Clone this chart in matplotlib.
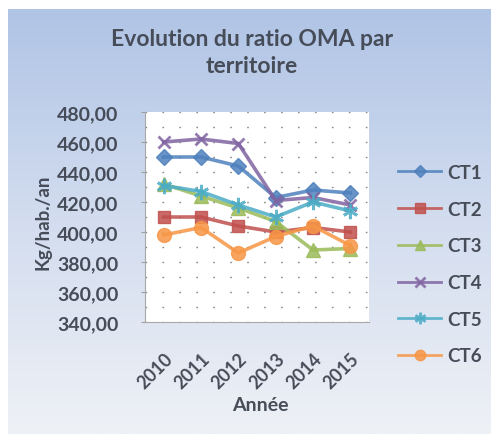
import numpy as np
import matplotlib
matplotlib.use("Agg")
import matplotlib.pyplot as plt
from matplotlib.colors import LinearSegmentedColormap

# --- data ---
years = ["2010", "2011", "2012", "2013", "2014", "2015"]
ct1 = [450, 450, 444, 423, 428, 426]
ct2 = [410, 410, 404, 400, 403, 400]
ct3 = [432, 424, 416, 407, 388, 389]
ct4 = [460, 462, 459, 421, 423, 418]
ct5 = [431, 427, 418, 410, 420, 414]
ct6 = [398, 403, 386, 397, 404, 391]
series_names = ["CT1", "CT2", "CT3", "CT4", "CT5", "CT6"]
y_ticks = [340, 360, 380, 400, 420, 440, 460, 480]

TXT = "#464c58"
FONT = "Lato"

styles = [
    dict(color="#4F81BD", marker="D", ms=8),
    dict(color="#C0504D", marker="s", ms=9),
    dict(color="#9BBB59", marker="^", ms=10),
    dict(color="#8064A2", marker="x", ms=9, mew=2),
    dict(color="#4BACC6", marker=(6, 2, 0), ms=11, mew=2),
    dict(color="#F79646", marker="o", ms=10),
]

fig = plt.figure(figsize=(4.91, 4.35), dpi=100)

# light blue gradient background of the Excel chart area
bg = fig.add_axes([8 / 491, 0, 1 - 8 / 491, 1 - 10 / 435])
grad = np.linspace(0, 1, 256).reshape(-1, 1)
cmap = LinearSegmentedColormap.from_list("bg", ["#b0c4e6", "#d3ddef", "#eef1f6"])
bg.imshow(grad, aspect="auto", cmap=cmap, extent=[0, 1, 0, 1], origin="upper")
bg.set_axis_off()

ax = fig.add_axes([145 / 491, 1 - 323 / 435, 224 / 491, 210 / 435])
ax.set_facecolor("white")
x = np.arange(len(years))
handles = []
for name, vals, st in zip(series_names, [ct1, ct2, ct3, ct4, ct5, ct6], styles):
    h, = ax.plot(x, vals, lw=2.6, label=name, alpha=0.85, **st)
    handles.append(h)

ax.set_xlim(-0.5, len(years) - 0.5)
ax.set_ylim(340, 480)
ax.set_yticks(y_ticks)
ax.set_yticklabels([f"{v:.2f}".replace(".", ",") for v in y_ticks],
                   fontsize=14, fontweight="bold", color=TXT, family=FONT)
ax.set_xticks(x)
ax.set_xticklabels(years, rotation=45, ha="right", rotation_mode="anchor",
                   fontsize=13, fontweight="bold", color=TXT, family=FONT)
ax.tick_params(axis="y", length=3, pad=16, color="#a0a0a0")
ax.tick_params(axis="x", length=0, pad=20)
ax.set_yticks(np.arange(350, 480, 10), minor=True)
ax.tick_params(axis="y", which="minor", length=0)
ax.grid(True, axis="y", which="both", color="#8a8a8a", lw=1.0, linestyle=(0, (1.2, 11)))
ax.set_axisbelow(True)
for s in ["top", "right"]:
    ax.spines[s].set_visible(False)
for s in ["left", "bottom"]:
    ax.spines[s].set_color("#a8a8a8")

fig.text(252 / 491, 1 - 53 / 435, "Evolution du ratio OMA par\nterritoire", ha="center", va="center",
         fontsize=16.5, fontweight="bold", color=TXT, family=FONT, linespacing=1.35)
fig.text(43 / 491, 1 - 222 / 435, "Kg/hab./an", rotation=90, ha="center", va="center",
         fontsize=13.5, fontweight="bold", color=TXT, family=FONT)
fig.text(260 / 491, 1 - 406 / 435, "Année", ha="center", va="center",
         fontsize=14, fontweight="bold", color=TXT, family=FONT)

leg = fig.legend(handles, series_names, loc="upper left", bbox_to_anchor=(398 / 491, 1 - 165 / 435),
                 frameon=False, borderaxespad=0, borderpad=0, handlelength=2.3, handletextpad=0.35,
                 labelspacing=1.05, markerscale=0.75,
                 prop=dict(family=FONT, weight="bold", size=13.5), labelcolor=TXT)
for line in leg.get_lines():
    line.set_linewidth(2.0)

fig.savefig("out.png", dpi=100)
